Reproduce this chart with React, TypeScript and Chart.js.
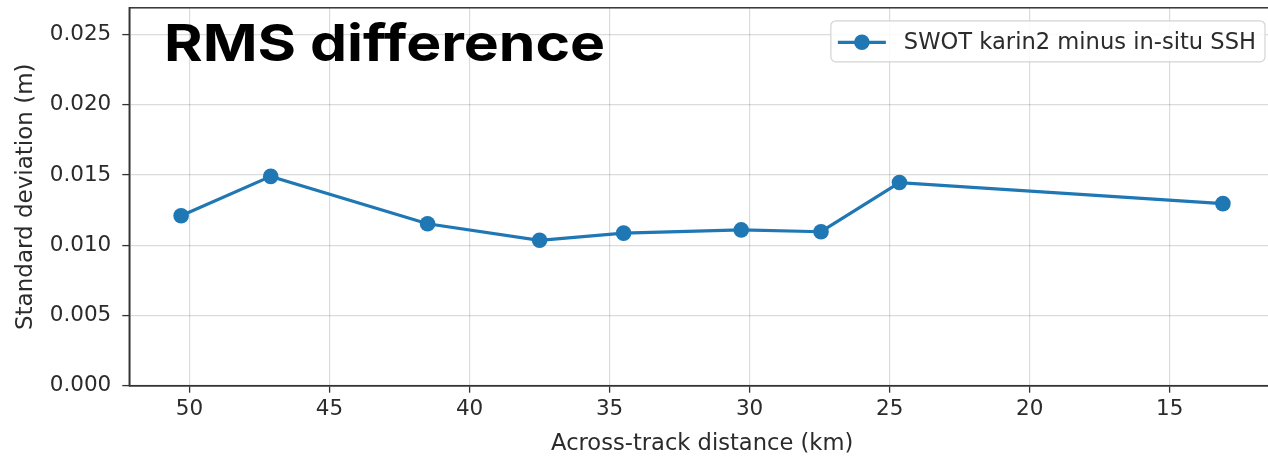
import React, { useEffect, useRef } from "react";
import { Chart, registerables } from "chart.js";

Chart.register(...registerables);

// ---- Data ----
const distanceKm = [50.3, 47.1, 41.5, 37.5, 34.5, 30.3, 27.45, 24.65, 13.1];
const stdDevM = [0.0121, 0.0149, 0.01153, 0.01035, 0.01086, 0.01109, 0.01096, 0.01446, 0.01296];
const seriesLabel = "SWOT karin2 minus in-situ SSH";
const chartTitle = "RMS difference";
const xAxisLabel = "Across-track distance (km)";
const yAxisLabel = "Standard deviation (m)";
const xTickValues = [50, 45, 40, 35, 30, 25, 20, 15];
const yTickValues = [0, 0.005, 0.01, 0.015, 0.02, 0.025];
const xLimits = [11.24, 52.15];
const yLimits = [0, 0.0269];

const BLUE = "#1f77b4";
const TEXT = "#2b2b2b";
const GRID = "rgba(0,0,0,0.14)";
const SPINE = "#333333";
const FONT = '"DejaVu Sans", sans-serif';

const framePlugin = {
  id: "frame",
  afterDatasetsDraw(chart: any) {
    const { ctx, chartArea } = chart;
    ctx.save();
    ctx.strokeStyle = SPINE;
    ctx.lineWidth = 1.5;
    ctx.strokeRect(chartArea.left, chartArea.top, chartArea.right - chartArea.left, chartArea.bottom - chartArea.top);
    ctx.restore();
  },
};

const overlayPlugin = {
  id: "overlay",
  afterDraw(chart: any) {
    const { ctx, chartArea } = chart;
    ctx.save();
    // Big title, drawn inside the plot area
    ctx.font = '700 51px Inter, "Liberation Sans", sans-serif';
    ctx.fillStyle = "#000";
    ctx.textBaseline = "alphabetic";
    ctx.textAlign = "left";
    const m = ctx.measureText(chartTitle);
    const inkW = m.actualBoundingBoxRight + m.actualBoundingBoxLeft;
    const sx = 436 / inkW;
    const inkLeft = 167.5;
    const originX = inkLeft + m.actualBoundingBoxLeft * sx;
    ctx.translate(originX, 60.5);
    ctx.scale(sx, 1);
    ctx.fillText(chartTitle, 0, 0);
    ctx.restore();

    // Legend (matplotlib-like, upper right inside the axes)
    ctx.save();
    ctx.font = "22.6px " + FONT;
    const tw = ctx.measureText(seriesLabel).width;
    const boxRight = chartArea.right - 10;
    const boxW = 7 + 48 + 18 + tw + 9;
    const boxLeft = boxRight - boxW;
    const boxTop = chartArea.top + 13;
    const boxH = 41;
    ctx.beginPath();
    (ctx as any).roundRect(boxLeft, boxTop, boxW, boxH, 5);
    ctx.fillStyle = "rgba(255,255,255,0.85)";
    ctx.fill();
    ctx.strokeStyle = "#d4d4d4";
    ctx.lineWidth = 1.2;
    ctx.stroke();
    const cy = boxTop + 21.5;
    ctx.strokeStyle = BLUE;
    ctx.lineWidth = 3.2;
    ctx.beginPath();
    ctx.moveTo(boxLeft + 7, cy);
    ctx.lineTo(boxLeft + 55, cy);
    ctx.stroke();
    ctx.beginPath();
    ctx.arc(boxLeft + 31, cy, 7.8, 0, Math.PI * 2);
    ctx.fillStyle = BLUE;
    ctx.fill();
    ctx.fillStyle = TEXT;
    ctx.textBaseline = "middle";
    ctx.textAlign = "left";
    ctx.fillText(seriesLabel, boxLeft + 73, cy + 1);
    ctx.restore();
  },
};

export default function App() {
  const canvasRef = useRef<HTMLCanvasElement | null>(null);

  useEffect(() => {
    const canvas = canvasRef.current;
    if (!canvas) return;
    const points = distanceKm.map((x, i) => ({ x, y: stdDevM[i] }));
    const chart = new Chart(canvas, {
      type: "line",
      data: {
        datasets: [
          {
            label: seriesLabel,
            data: points,
            borderColor: BLUE,
            backgroundColor: BLUE,
            borderWidth: 3.2,
            pointRadius: 7.8,
            pointHoverRadius: 7.8,
            pointBackgroundColor: BLUE,
            pointBorderColor: BLUE,
            pointBorderWidth: 0,
            tension: 0,
            fill: false,
          },
        ],
      },
      options: {
        responsive: false,
        animation: false,
        devicePixelRatio: 1,
        layout: { padding: { top: 6.5, right: 15, bottom: 0, left: 0 } },
        plugins: {
          legend: { display: false },
          tooltip: { enabled: false },
          title: { display: false },
        },
        scales: {
          x: {
            type: "linear",
            reverse: true,
            min: xLimits[0],
            max: xLimits[1],
            afterFit: (s: any) => {
              s.height = 75.3;
              s.paddingLeft = 0;
              s.paddingRight = 0;
            },
            afterBuildTicks: (s: any) => {
              s.ticks = xTickValues.map((v) => ({ value: v }));
            },
            ticks: {
              includeBounds: false,
              autoSkip: false,
              maxRotation: 0,
              padding: 4,
              color: TEXT,
              font: { family: FONT, size: 21.5 },
              callback: (v: any) => String(v),
            },
            grid: {
              color: GRID,
              lineWidth: 1.2,
              drawTicks: true,
              tickLength: 7,
              tickColor: SPINE,
              tickWidth: 1.3,
            },
            border: { display: true, color: SPINE, width: 1.5 },
            title: {
              display: true,
              text: xAxisLabel,
              color: TEXT,
              font: { family: FONT, size: 22.6 },
              padding: { top: 0, bottom: 3 },
            },
          },
          y: {
            type: "linear",
            min: yLimits[0],
            max: yLimits[1],
            afterFit: (s: any) => {
              s.width = 129.3;
              s.paddingTop = 0;
              s.paddingBottom = 0;
            },
            afterBuildTicks: (s: any) => {
              s.ticks = yTickValues.map((v) => ({ value: v }));
            },
            ticks: {
              includeBounds: false,
              autoSkip: false,
              padding: 11,
              color: TEXT,
              font: { family: FONT, size: 21.5 },
              callback: (v: any) => Number(v).toFixed(3),
            },
            grid: {
              color: GRID,
              lineWidth: 1.2,
              drawTicks: true,
              tickLength: 7,
              tickColor: SPINE,
              tickWidth: 1.3,
            },
            border: { display: true, color: SPINE, width: 1.5 },
            title: {
              display: true,
              text: yAxisLabel,
              color: TEXT,
              font: { family: FONT, size: 23 },
              padding: { top: 12, bottom: 0 },
            },
          },
        },
      },
      plugins: [framePlugin, overlayPlugin],
    });
    return () => chart.destroy();
  }, []);

  return (
    <div
      style={{
        position: "fixed",
        left: 0,
        top: 0,
        width: 1268,
        height: 461,
        overflow: "hidden",
        background: "#fff",
      }}
    >
      <canvas ref={canvasRef} width={1290} height={461} style={{ display: "block" }} />
    </div>
  );
}
